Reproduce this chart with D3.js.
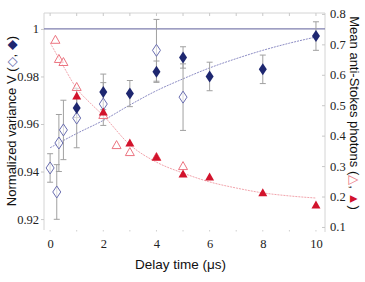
<!DOCTYPE html>
<html>
<head>
<meta charset="utf-8">
<script src="https://cdn.jsdelivr.net/npm/d3@7"></script>
<style>
  body { margin: 0; background: #fff; }
</style>
</head>
<body>
<script>
const width = 365, height = 282;
const margin = {top: 13, right: 40, bottom: 52, left: 44};
const serif = "'Liberation Serif', 'Times New Roman', serif";
const sans = "'Liberation Sans', Arial, sans-serif";

// filled diamonds: normalized variance (left axis)
const fdT   = [1, 2, 3, 4, 5, 6, 8, 10];
const fdV   = [0.9667, 0.9735, 0.9728, 0.982, 0.988, 0.980, 0.983, 0.997];
const fdErr = [0.004, 0.0075, 0.0055, 0.0045, 0.0045, 0.006, 0.006, 0.006];

// open diamonds: normalized variance (left axis)
const odT   = [0, 0.25, 0.33, 0.5, 1, 2, 4, 5];
const odV   = [0.9415, 0.9314, 0.952, 0.9575, 0.9625, 0.9684, 0.991, 0.9713];
const odErr = [0.006, 0.0115, 0.012, 0.0125, 0.0125, 0.009, 0.013, 0.014];

// filled triangles: mean anti-Stokes photons (right axis)
const ftT = [1, 2, 3, 4, 5, 6, 8, 10];
const ftN = [0.53, 0.478, 0.376, 0.330, 0.274, 0.264, 0.212, 0.172];

// open triangles: mean anti-Stokes photons (right axis)
const otT = [0.2, 0.33, 0.5, 1, 2, 2.5, 3, 4, 5];
const otN = [0.715, 0.652, 0.642, 0.56, 0.468, 0.369, 0.346, 0.33, 0.30];

// fitted curves
const fitVT = [0, 1, 2, 3, 4, 5, 6, 7, 8, 9, 10];
const fitV  = [0.950, 0.956, 0.9615, 0.968, 0.974, 0.979, 0.9836, 0.9875, 0.991, 0.994, 0.9966];
const fitNT = [0, 0.5, 1, 1.5, 2, 3, 4, 5, 6, 7, 8, 9, 10];
const fitN  = [0.705, 0.628, 0.555, 0.508, 0.466, 0.37, 0.313, 0.277, 0.248, 0.228, 0.212, 0.202, 0.195];

const xTicks  = [0, 2, 4, 6, 8, 10];
const yLTicks = [0.92, 0.94, 0.96, 0.98, 1];
const yRTicks = [0.1, 0.2, 0.3, 0.4, 0.5, 0.6, 0.7, 0.8];

const x = d3.scaleLinear().domain([-0.23, 10.34]).range([margin.left, width - margin.right]);
const yL = d3.scaleLinear().domain([0.9154, 1.0067]).range([height - margin.bottom, margin.top]);
const yR = d3.scaleLinear().domain([0.09, 0.803]).range([height - margin.bottom, margin.top]);

const svg = d3.select("body").append("svg")
  .attr("width", width).attr("height", height);

const x0 = margin.left, x1 = width - margin.right;
const y0 = margin.top, y1 = height - margin.bottom;

// frame
svg.append("path")
  .attr("d", `M${x0},${y1}V${y0}H${x1}V${y1 + 2}`)
  .attr("fill", "none").attr("stroke", "#d4d4d4").attr("stroke-width", 1);

// minor ticks top / bottom (every 1 µs)
const minor = d3.range(0, 11);
svg.append("g").selectAll("line").data(minor).join("line")
  .attr("x1", d => x(d)).attr("x2", d => x(d))
  .attr("y1", y0).attr("y2", y0 + 3)
  .attr("stroke", "#c8c8c8");
svg.append("g").selectAll("line").data(minor).join("line")
  .attr("x1", d => x(d)).attr("x2", d => x(d))
  .attr("y1", y1).attr("y2", y1 + 1.5)
  .attr("stroke", "#d0d0d0");

function styleLabels(g) {
  g.selectAll("text")
    .style("font-family", serif).style("font-size", "12.5px").attr("fill", "#222");
}

// left axis
const yAxisL = d3.axisLeft(yL).tickValues(yLTicks)
  .tickFormat(d => d === 1 ? "1" : d3.format(".2f")(d)).tickSize(3);
svg.append("g").attr("transform", `translate(${x0},0)`).call(yAxisL)
  .call(g => g.select(".domain").remove())
  .call(g => g.selectAll("line").attr("stroke", "#c8c8c8"))
  .call(g => g.selectAll("text").attr("x", -5))
  .call(styleLabels);

// right axis
const yAxisR = d3.axisRight(yR).tickValues(yRTicks).tickFormat(d3.format(".1f")).tickSize(-3);
svg.append("g").attr("transform", `translate(${x1},0)`).call(yAxisR)
  .call(g => g.select(".domain").remove())
  .call(g => g.selectAll("line").attr("stroke", "#c8c8c8"))
  .call(g => g.selectAll("text").attr("x", 5))
  .call(styleLabels);

// bottom axis labels
const xAxis = d3.axisBottom(x).tickValues(xTicks).tickSize(0);
svg.append("g").attr("transform", `translate(0,${y1})`).call(xAxis)
  .call(g => g.select(".domain").remove())
  .call(g => g.selectAll("text").attr("dy", "1.05em").attr("y", 5))
  .call(styleLabels);

// reference line V = 1
svg.append("line")
  .attr("x1", x0).attr("x2", x1)
  .attr("y1", yL(1)).attr("y2", yL(1))
  .attr("stroke", "#7e7eae").attr("stroke-width", 1.3);

// fit curves
svg.append("path")
  .datum(fitVT.map((t, i) => [t, fitV[i]]))
  .attr("d", d3.line().x(d => x(d[0])).y(d => yL(d[1])).curve(d3.curveMonotoneX))
  .attr("fill", "none").attr("stroke", "#8c8cc4").attr("stroke-width", 1)
  .attr("stroke-dasharray", "2,1");
svg.append("path")
  .datum(fitNT.map((t, i) => [t, fitN[i]]))
  .attr("d", d3.line().x(d => x(d[0])).y(d => yR(d[1])).curve(d3.curveMonotoneX))
  .attr("fill", "none").attr("stroke", "#f2a4ac").attr("stroke-width", 1)
  .attr("stroke-dasharray", "2,1");

// error bars
function errBars(ts, vs, es) {
  const g = svg.append("g").attr("stroke", "#a0a0a0").attr("stroke-width", 1);
  ts.forEach((t, i) => {
    const cx = x(t), top = yL(vs[i] + es[i]), bot = yL(vs[i] - es[i]);
    g.append("line").attr("x1", cx).attr("x2", cx).attr("y1", top).attr("y2", bot);
    g.append("line").attr("x1", cx - 3).attr("x2", cx + 3).attr("y1", top).attr("y2", top);
    g.append("line").attr("x1", cx - 3).attr("x2", cx + 3).attr("y1", bot).attr("y2", bot);
  });
}
errBars(odT, odV, odErr);
errBars(fdT, fdV, fdErr);

const diamond = "M0,-6L4,0L0,6L-4,0Z";
const triangle = "M0,-4.5L4.5,3.5L-4.5,3.5Z";

// open triangles
svg.append("g").selectAll("path").data(otT).join("path")
  .attr("d", triangle)
  .attr("transform", (d, i) => `translate(${x(d)},${yR(otN[i])})`)
  .attr("fill", "#fff").attr("fill-opacity", 0.6)
  .attr("stroke", "#ec7480").attr("stroke-width", 1);

// open diamonds
svg.append("g").selectAll("path").data(odT).join("path")
  .attr("d", diamond)
  .attr("transform", (d, i) => `translate(${x(d)},${yL(odV[i])})`)
  .attr("fill", "#fff").attr("fill-opacity", 0.6)
  .attr("stroke", "#6a6eb0").attr("stroke-width", 1);

// filled triangles
svg.append("g").selectAll("path").data(ftT).join("path")
  .attr("d", triangle)
  .attr("transform", (d, i) => `translate(${x(d)},${yR(ftN[i])})`)
  .attr("fill", "#d2132c");

// filled diamonds
svg.append("g").selectAll("path").data(fdT).join("path")
  .attr("d", diamond)
  .attr("transform", (d, i) => `translate(${x(d)},${yL(fdV[i])})`)
  .attr("fill", "#1e2770");

// axis titles
svg.append("text")
  .style("font-family", sans).style("font-size", "13.5px").attr("fill", "#111")
  .attr("x", (x0 + x1) / 2 - 4).attr("y", 269)
  .attr("text-anchor", "middle")
  .text("Delay time (\u03bcs)");

const tl = svg.append("text")
  .style("font-family", sans).style("font-size", "13px").attr("fill", "#111")
  .attr("transform", "translate(16,121) rotate(-90)")
  .attr("text-anchor", "middle");
tl.append("tspan").text("Normalized variance V (");
tl.append("tspan").attr("fill", "#6a6eb0").text("\u25c7");
tl.append("tspan").text(", ");
tl.append("tspan").attr("fill", "#1e2770").text("\u25c6");
tl.append("tspan").text(")");

const tr = svg.append("text")
  .style("font-family", sans).style("font-size", "13px").attr("fill", "#111")
  .attr("transform", "translate(350,113) rotate(90)")
  .attr("text-anchor", "middle");
tr.append("tspan").text("Mean anti-Stokes photons (");
tr.append("tspan").attr("fill", "#ec7480").text("\u25b3");
tr.append("tspan").text(", ");
tr.append("tspan").attr("fill", "#d2132c").text("\u25b2");
tr.append("tspan").text(")");
</script>
</body>
</html>
